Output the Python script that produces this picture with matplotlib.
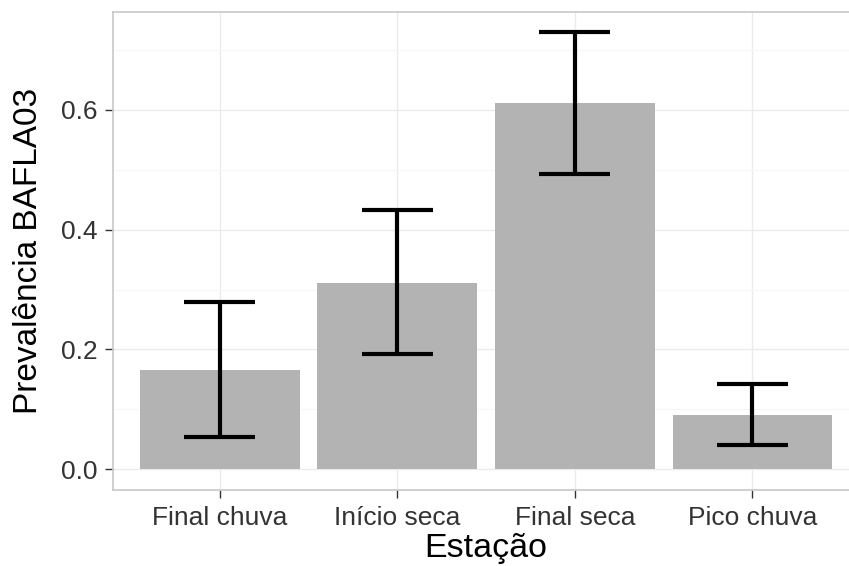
import numpy as np
import matplotlib.pyplot as plt

plt.rcParams['font.family'] = ['Liberation Sans', 'DejaVu Sans']

# data
stations = ['Final chuva', 'Início seca', 'Final seca', 'Pico chuva']
prevalence = [0.166, 0.311, 0.611, 0.090]
ci_low = [0.054, 0.192, 0.492, 0.040]
ci_high = [0.279, 0.432, 0.730, 0.142]

fig = plt.figure(figsize=(8.49, 5.66), dpi=100)
# panel runs past the right edge in the original, so let it overflow
ax = fig.add_axes([113 / 849, 1 - 490 / 566, 746 / 849, 478.5 / 566])

x = np.arange(len(stations))
ax.bar(x, prevalence, width=0.9, color='#B3B3B3', zorder=2)
ax.vlines(x, ci_low, ci_high, color='black', linewidth=3, zorder=3)
ax.hlines(ci_low, x - 0.2, x + 0.2, color='black', linewidth=3, zorder=3)
ax.hlines(ci_high, x - 0.2, x + 0.2, color='black', linewidth=3, zorder=3)

ax.set_xlim(-0.6, 3.6)
ax.set_ylim(-0.0346, 0.764)
ax.set_xticks(x)
ax.set_xticklabels(stations)
ax.set_yticks([0.0, 0.2, 0.4, 0.6])
ax.set_yticklabels(['0.0', '0.2', '0.4', '0.6'])
ax.set_yticks([0.1, 0.3, 0.5, 0.7], minor=True)

ax.grid(which='major', color='#EBEBEB', linewidth=1.0, zorder=0)
ax.grid(which='minor', axis='y', color='#F7F7F7', linewidth=0.8, zorder=0)
ax.set_axisbelow(True)
ax.tick_params(which='major', length=6, width=1, color='#333333',
               labelsize=19, labelcolor='#333333')
ax.tick_params(axis='x', pad=5.5)
ax.tick_params(axis='y', pad=5)
ax.tick_params(which='minor', length=0)
for s in ax.spines.values():
    s.set_color('#C8C8C8')
    s.set_linewidth(1.2)

ax.set_xlabel('Estação', fontsize=24.5, labelpad=2)
ax.set_ylabel('Prevalência BAFLA03', fontsize=24, labelpad=12)

fig.savefig('out.png', dpi=100)
